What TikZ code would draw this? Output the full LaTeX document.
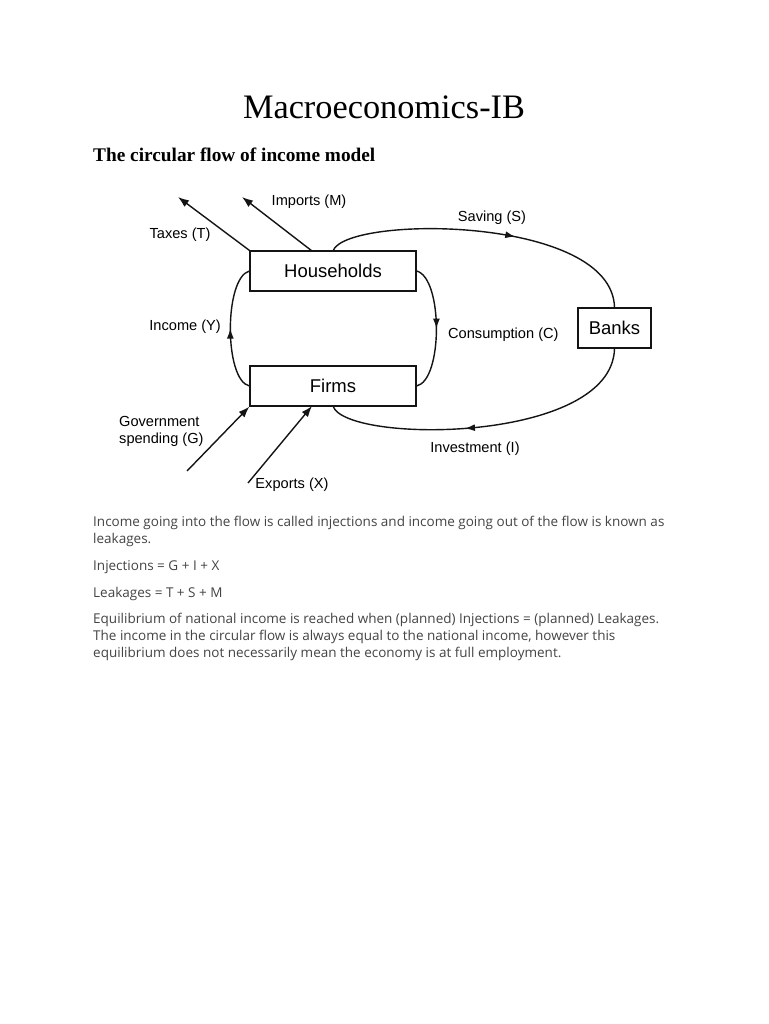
\documentclass[tikz,border=0pt]{standalone}
\usepackage{fontspec}
\setmainfont{Liberation Serif}
\newfontfamily\diagfont{Liberation Sans}
\newfontfamily\bodyfont{Open Sans}
\usetikzlibrary{arrows.meta,decorations.markings,calc}
\definecolor{bodygray}{RGB}{68,68,68}
\definecolor{linek}{RGB}{20,20,20}
\begin{document}
\begin{tikzpicture}[x=1pt,y=-1pt,
  box/.style={draw=linek,line width=1.3pt,minimum width=166pt,minimum height=40pt,inner sep=0pt,font=\diagfont\fontsize{18.5}{20}\selectfont},
  lbl/.style={font=\diagfont\fontsize{14.6}{16}\selectfont,inner sep=0pt},
  flow/.style={draw=linek,line width=1.4pt},
  outarrow/.style={flow,-{Latex[length=11pt,width=8pt]}},
  midarrow/.style={flow,postaction={decorate},decoration={markings,mark=at position #1 with {\arrow{Latex[length=10pt,width=7pt]}}}},
  midarrow/.default=0.5,
  bodytxt/.style={font=\bodyfont\fontsize{13.5}{15}\selectfont,text=bodygray,anchor=base west,inner sep=0pt}
]
\useasboundingbox[fill=white] (0,0) rectangle (768,1024);

% headings
\node[anchor=base,inner sep=0pt,font=\fontsize{34.3}{36}\selectfont] (title) at (384,119) {Macroeconomics-IB};
\node[anchor=base west,inner sep=0pt,font=\bfseries\fontsize{19.3}{21}\selectfont] (sub) at (93,162) {The circular flow of income model};

% boxes
\node[box] (hh) at (333,271) {Households};
\node[box] (firms) at (333,386) {Firms};
\node[box,minimum width=73pt] (banks) at (614.5,328) {Banks};

% free ends
\coordinate (taxend) at (178,197);
\coordinate (impend) at (242,197);
\coordinate (impstart) at (312,251);
\coordinate (govstart) at (187,471);
\coordinate (expstart) at (248,483);
\coordinate (exptip) at (312,406);
\coordinate (savstart) at (333,251);
\coordinate (invend) at (333,406);

% leakages
\draw[outarrow] (hh.north west) -- (taxend);
\draw[outarrow] (impstart) -- (impend);
% injections
\draw[outarrow] (govstart) -- (firms.south west);
\draw[outarrow] (expstart) -- (exptip);

% saving and investment
\draw[midarrow=0.59] (savstart) .. controls (345,215) and (612,215) .. (banks.north);
\draw[midarrow=0.57] (banks.south) .. controls (612,444) and (345,444) .. (invend);

% consumption and income
\draw[midarrow=0.5] (hh.east) .. controls (443,278) and (443,380) .. (firms.east);
\draw[midarrow=0.5] (firms.west) .. controls (224,380) and (224,278) .. (hh.west);

% labels
\node[lbl] (limp) at (309,202) {Imports (M)};
\node[lbl] (ltax) at (180,234.5) {Taxes (T)};
\node[lbl] (lsav) at (492,217.5) {Saving (S)};
\node[lbl,anchor=west] (lcon) at (448,334.5) {Consumption (C)};
\node[lbl,anchor=east] (linc) at (221,326.5) {Income (Y)};
\node[lbl] (linv) at (475,448.5) {Investment (I)};
\node[lbl] (lexp) at (292,484.5) {Exports (X)};
\node[lbl,anchor=north west,align=left,font=\diagfont\fontsize{14.6}{17}\selectfont] (lgov) at (119,416) {Government\\spending (G)};

% body text
\node[bodytxt] (p1a) at (93,526) {Income going into the flow is called injections and income going out of the flow is known as};
\node[bodytxt] (p1b) at (93,543) {leakages.};
\node[bodytxt] (p2) at (93,570) {Injections = G + I + X};
\node[bodytxt] (p3) at (93,597) {Leakages = T + S + M};
\node[bodytxt] (p4a) at (93,623) {Equilibrium of national income is reached when (planned) Injections = (planned) Leakages.};
\node[bodytxt] (p4b) at (93,640) {The income in the circular flow is always equal to the national income, however this};
\node[bodytxt] (p4c) at (93,657) {equilibrium does not necessarily mean the economy is at full employment.};
\end{tikzpicture}
\end{document}
